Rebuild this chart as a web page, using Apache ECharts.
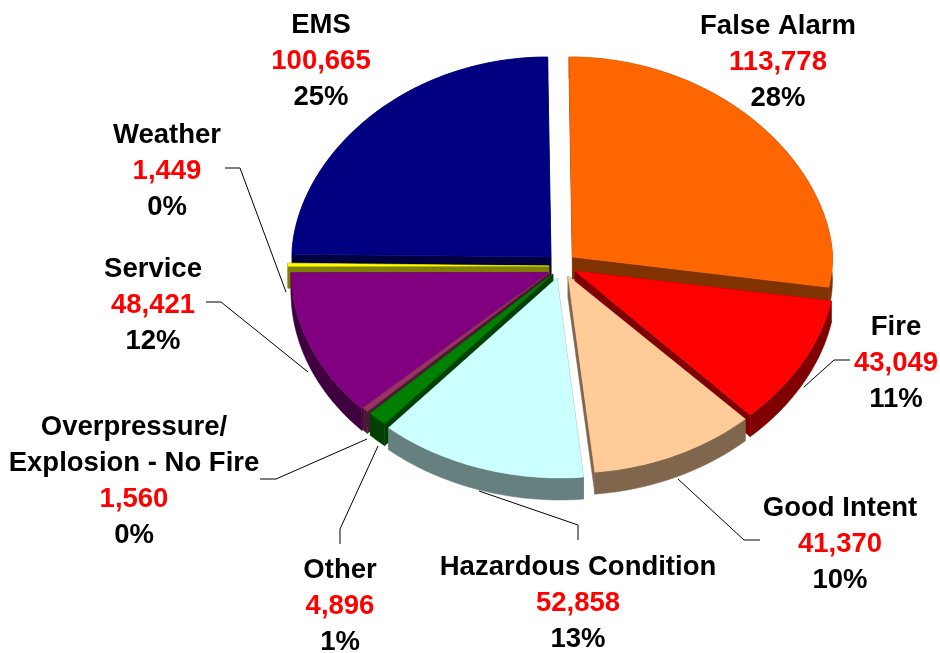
<!DOCTYPE html>
<html>
<head>
<meta charset="utf-8">
<style>html,body{margin:0;padding:0;background:#fff}#c{width:940px;height:653px}</style>
<script src="https://cdn.jsdelivr.net/npm/echarts@6/dist/echarts.min.js"></script>
</head>
<body>
<div id="c"></div>
<script>
// Data, clockwise from 12 o'clock
const categories = ['False Alarm','Fire','Good Intent','Hazardous Condition','Other','Overpressure/\nExplosion - No Fire','Service','Weather','EMS'];
const values = [113778,43049,41370,52858,4896,1560,48421,1449,100665];

// Styles
const topColors  = ['#FF6600','#FF0000','#FFCC99','#CCFFFF','#008000','#993366','#800080','#FFFF00','#000080'];
const wallColors = ['#803300','#800000','#80664D','#668080','#004000','#4D1A33','#400040','#808000','#000040'];

// Layout: exploded centre of each slice and its radii
const cxs = [572.5,575,568,557,553,550,548,549,551];
const cys = [257,271,276,278,274,272,272.5,266,257];
const rxs = [260,260,263,258,258,258,257,261,259];
const rys = [200,198,197,200,200,200,200,200,200];
const depth = 22;
const shear = 0.017;
const paintOrder = [8,0,7,6,5,4,1,2,3];
const labelX = [778,896,840,578,340,134,153,167,321];
const labelY = [26,327,508,567,570,427,269,135,25];
const labelStep = 36;
const leaders = [null,
  [[804,387],[834,360],[850,360]],
  [[678,479],[744,540],[760,540]],
  [[479,491],[578,525],[578,540]],
  [[378,446],[340,529],[340,544]],
  [[367,439],[276,479],[260,479]],
  [[308,372],[221,302],[206,302]],
  [[286,292],[240,168],[225,168]],
  null];

const total = values.reduce((a,b)=>a+b,0);
const startAngles = [];
values.reduce((acc,v,i)=>{startAngles[i]=acc;return acc+v/total*360;},0);

function rimPoint(i,deg){
  const t = deg*Math.PI/180, s = Math.sin(t), c = Math.cos(t);
  // lower-left quadrant keeps the plain ellipse, the others are slightly flattened by perspective
  const dy = (s<0 && c<0) ? -c : -Math.sign(c)*Math.pow(Math.abs(c),1.1);
  const y = rys[i]*dy;
  return [cxs[i]+rxs[i]*s+shear*y, cys[i]+y];
}
function poly(points,fill){
  return {type:'polygon',shape:{points:points},style:{fill:fill,stroke:fill,lineWidth:0.5}};
}
function renderItem(params,api){
  const i = api.value(0), v = api.value(1);
  const a0 = startAngles[i], a1 = a0+v/total*360;
  const arc = [];
  const n = Math.max(2,Math.ceil(a1-a0));
  for(let k=0;k<=n;k++) arc.push(rimPoint(i,a0+(a1-a0)*k/n));
  const apex = [cxs[i],cys[i]];
  const down = p=>[p[0],p[1]+depth];
  const wall = wallColors[i];
  const children = [
    poly([apex,arc[0],down(arc[0]),down(apex)],wall),
    poly([apex,arc[n],down(arc[n]),down(apex)],wall),
    poly(arc.concat(arc.slice().reverse().map(down)),wall),
    poly([apex].concat(arc),topColors[i])
  ];
  if(leaders[i]) children.push({type:'polyline',shape:{points:leaders[i]},style:{fill:null,stroke:'#000',lineWidth:1}});
  const lines = categories[i].split('\n');
  const pct = Math.round(v/total*100)+'%';
  const all = lines.map(t=>[t,'#000']).concat([[v.toLocaleString('en-US'),'#FF0000'],[pct,'#000']]);
  all.forEach((l,k)=>children.push({type:'text',x:labelX[i],y:labelY[i]+k*labelStep,
    style:{text:l[0],fill:l[1],align:'center',verticalAlign:'middle',
      font:'bold 27.5px "Liberation Sans", Arial, sans-serif'}}));
  return {type:'group',children:children};
}
const chart = echarts.init(document.getElementById('c'),null,{renderer:'canvas'});
chart.setOption({
  animation:false,
  backgroundColor:'#fff',
  series:[{type:'custom',coordinateSystem:'none',silent:true,clip:false,
    renderItem:renderItem,
    data:paintOrder.map(i=>[i,values[i]])}]
});
</script>
</body>
</html>
